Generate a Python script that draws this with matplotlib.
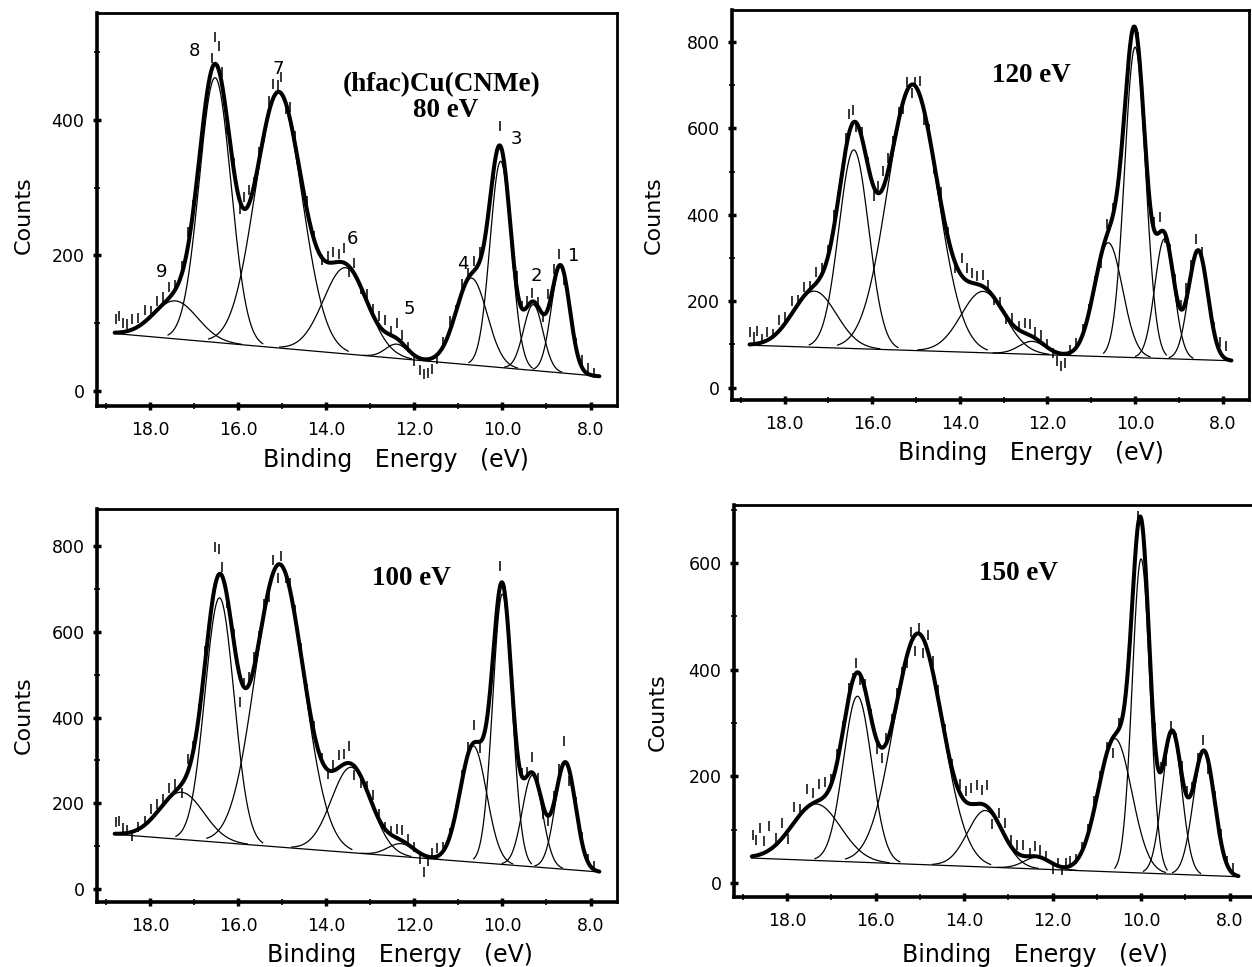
import numpy as np
import matplotlib.pyplot as plt
from matplotlib.ticker import MultipleLocator, FormatStrFormatter

# He I / synchrotron photoelectron spectra of (hfac)Cu(CNMe), nine-gaussian fits
# peaks are listed 1..9 (low -> high binding energy)
# centre (eV), height above the background (counts), width sigma (eV)
pos_80 = [8.68, 9.30, 10.04, 10.70, 12.40, 13.56, 15.08, 16.52, 17.42]
amp_80 = [157, 97, 304, 128, 21, 127, 376, 390, 56]
sig_80 = [0.21, 0.22, 0.24, 0.35, 0.25, 0.50, 0.53, 0.36, 0.50]
bg_80 = [85, 22]          # linear background at 18.8 eV and at 7.8 eV

pos_120 = [8.56, 9.33, 10.00, 10.61, 12.35, 13.47, 15.08, 16.42, 17.32]
amp_120 = [253, 277, 719, 264, 30, 142, 615, 460, 130]
sig_120 = [0.22, 0.22, 0.24, 0.32, 0.30, 0.50, 0.57, 0.34, 0.50]
bg_120 = [98, 62]

pos_100 = [8.57, 9.32, 10.00, 10.66, 12.30, 13.43, 15.06, 16.42, 17.28]
amp_100 = [249, 213, 630, 271, 30, 199, 659, 570, 110]
sig_100 = [0.23, 0.23, 0.22, 0.30, 0.30, 0.45, 0.55, 0.33, 0.50]
bg_100 = [128, 40]

pos_150 = [8.58, 9.30, 10.00, 10.59, 12.35, 13.52, 15.04, 16.41, 17.34]
amp_150 = [233, 265, 589, 250, 22, 106, 433, 311, 106]
sig_150 = [0.24, 0.22, 0.20, 0.38, 0.30, 0.40, 0.55, 0.32, 0.55]
bg_150 = [47, 12]

peak_labels = ["1", "2", "3", "4", "5", "6", "7", "8", "9"]
label_x_80 = [8.38, 9.23, 9.68, 10.91, 12.11, 13.41, 15.08, 16.99, 17.73]
label_y_80 = [199, 170, 371, 187, 121, 224, 474, 501, 175]

# measured points that stand off the fit: energy (eV) and residual (counts)
pt_x = [18.78, 18.70, 18.62, 18.52, 18.40, 18.26, 18.12, 17.98, 17.84, 17.70,
        17.56, 17.42, 17.28, 17.14, 17.02, 16.88, 16.74, 16.60, 16.52, 16.44,
        16.36, 16.24, 16.10, 15.96, 15.86, 15.76, 15.64, 15.52, 15.40, 15.30,
        15.20, 15.10, 15.02, 14.92, 14.82, 14.70, 14.58, 14.44, 14.28, 14.10,
        13.96, 13.84, 13.72, 13.60, 13.48, 13.36, 13.22, 13.08, 12.94, 12.80,
        12.66, 12.52, 12.40, 12.28, 12.14, 12.00, 11.88, 11.78, 11.70, 11.60,
        11.48, 11.34, 11.20, 11.06, 10.92, 10.78, 10.64, 10.50, 10.36, 10.20,
        10.06, 9.94, 9.80, 9.68, 9.56, 9.44, 9.32, 9.20, 9.08, 8.96,
        8.84, 8.72, 8.60, 8.48, 8.34, 8.20, 8.06, 7.92]
res_80 = [20, 24, 14, 10, 16, 12, 18, 8, 14, 10,
          16, 6, 12, 22, 10, 4, -6, 18, 40, 34,
          20, -10, 8, -12, 18, 22, 6, 12, -8, 16,
          20, 10, 24, -10, 18, 14, -6, 12, 4, -4,
          10, 16, 12, 22, -8, 16, -4, 10, 8, 14,
          18, 6, 22, 12, 4, -8, -18, -22, -20, -16,
          -6, 6, 16, 4, 12, 8, 14, 10, 4, -6,
          28, 6, -6, 14, 4, 8, 12, 6, -4, 20,
          24, 18, -10, 6, 4, 10, 8, 4]
res_120 = [28, 16, 30, 8, 20, 6, 24, 14, 30, 10,
           22, 8, 26, 12, 20, 30, 10, 24, 40, 30,
           -10, 12, 8, -20, 16, 40, 30, 14, 20, -14,
           18, -20, 10, 30, -24, 14, -10, 20, 8, -10,
           40, 30, 22, 18, 26, 12, -6, 10, -6, 14,
           8, 22, 26, 14, 18, 8, -6, -20, -28, -22,
           6, 10, 14, 10, 8, -16, 24, 14, 6, 10,
           -8, 10, -10, 6, 20, 36, -12, 14, 24, 10,
           30, 18, 30, 12, -6, 10, 24, 30]
res_100 = [28, 30, 14, 8, -10, 6, 10, 24, 20, 14,
           22, 16, -20, 30, 14, 10, 20, 8, 90, 60,
           20, -10, 14, -60, 10, 20, 24, 10, 14, -20,
           30, -30, 20, -10, 16, 20, 10, 8, 14, 6,
           -10, 14, 30, 24, 40, -20, -16, 10, 24, 14,
           6, 10, 20, 24, 12, 6, -14, -40, -10, 10,
           20, 8, 10, 6, 14, 16, 40, -16, 8, 6,
           50, 10, -8, 6, 8, 10, 36, 16, -20, -12,
           20, 24, 50, -24, 8, 10, 6, 8]
res_150 = [40, 30, 50, 22, 44, 14, 30, -16, 28, 10,
           36, 20, 30, 26, 14, 20, 10, 14, 6, 18,
           -12, 10, 8, -14, -20, 10, 14, 18, 8, -12,
           20, -30, 10, -26, 30, 24, 20, 10, 6, 16,
           20, 30, 36, 26, 40, -20, 20, 24, 12, 16,
           20, 6, 20, 14, 8, -10, 6, -6, 8, 10,
           6, 8, 10, 16, 8, 12, -28, 10, 8, 6,
           10, 8, 10, 36, 10, -20, 10, 8, 16, 10,
           6, 14, 20, -14, 8, 12, 6, 10]

e_hi, e_lo = 18.8, 7.8


def model(x, pos, amp, sig, bg):
    x = np.asarray(x, dtype=float)
    base = bg[1] + (bg[0] - bg[1]) * (x - e_lo) / (e_hi - e_lo)
    comps = [a * np.exp(-(x - p) ** 2 / (2 * s ** 2)) for p, a, s in zip(pos, amp, sig)]
    return base, comps


fig = plt.figure(figsize=(12.52, 9.67), dpi=100)

panels = [
    # rect, ylim, params, residuals, title lines, counts pos, xlabel pos
    ([0.0775, 0.580, 0.4153, 0.4064], (-22, 557), (pos_80, amp_80, sig_80, bg_80), res_80,
     [("(hfac)Cu(CNMe)", 11.39, 452), ("80 eV", 11.29, 413)], (-0.14, 0.486), (0.575, -0.137)),
    ([0.5847, 0.5863, 0.4129, 0.4033], (-29, 874), (pos_120, amp_120, sig_120, bg_120), res_120,
     [("120 eV", 12.36, 723)], (-0.151, 0.474), (0.578, -0.136)),
    ([0.0775, 0.0672, 0.4153, 0.4064], (-30, 886), (pos_100, amp_100, sig_100, bg_100), res_100,
     [("100 eV", 12.06, 725)], (-0.14, 0.476), (0.583, -0.135)),
    ([0.5863, 0.0724, 0.4170, 0.4054], (-26, 709), (pos_150, amp_150, sig_150, bg_150), res_150,
     [("150 eV", 12.78, 581)], (-0.146, 0.472), (0.577, -0.148)),
]

x = np.linspace(e_hi, e_lo, 800)

for i, (rect, ylim, params, res, titles, cpos, xpos) in enumerate(panels):
    ax = fig.add_axes(rect)
    pos, amp, sig, bg = params
    base, comps = model(x, *params)

    ax.plot(x, base, color="black", lw=0.9)
    for p, s, c in zip(pos, sig, comps):
        m = np.abs(x - p) <= 3 * s
        ax.plot(x[m], base[m] + c[m], color="black", lw=0.9)
    ax.plot(x, base + np.sum(comps, axis=0), color="black", lw=2.9,
            solid_capstyle="round", solid_joinstyle="round")

    pb, pc = model(pt_x, *params)
    pts = pb + np.sum(pc, axis=0) + np.array(res)
    ax.plot(pt_x, pts, linestyle="none", marker="|", color="black", ms=7, mew=1.1)

    for txt, tx, ty in titles:
        ax.text(tx, ty, txt, ha="center", va="center", fontsize=19.5,
                fontweight="bold", family="Liberation Serif")

    if i == 0:
        for lab, lx, ly in zip(peak_labels, label_x_80, label_y_80):
            ax.text(lx, ly, lab, ha="center", va="center", fontsize=13)

    ax.set_xlim(19.2, 7.4)
    ax.set_ylim(*ylim)
    ax.xaxis.set_major_locator(MultipleLocator(2))
    ax.xaxis.set_minor_locator(MultipleLocator(1))
    ax.xaxis.set_major_formatter(FormatStrFormatter("%.1f"))
    ax.yaxis.set_major_locator(MultipleLocator(200))
    ax.yaxis.set_minor_locator(MultipleLocator(100))
    ax.tick_params(which="major", direction="inout", length=6, width=2.5,
                   labelsize=12.5, pad=6)
    ax.tick_params(which="minor", direction="inout", length=5, width=1.2)
    ax.tick_params(axis="x", which="major", pad=8)
    for side in ["left", "bottom"]:
        ax.spines[side].set_linewidth(2.6)
    for side in ["top", "right"]:
        ax.spines[side].set_linewidth(2.0)

    ax.text(cpos[0], cpos[1], "Counts", transform=ax.transAxes, rotation=90,
            ha="center", va="center", fontsize=16)
    ax.text(xpos[0], xpos[1], "Binding   Energy   (eV)", transform=ax.transAxes,
            ha="center", va="center", fontsize=17)

fig.savefig("out.png", dpi=100)
